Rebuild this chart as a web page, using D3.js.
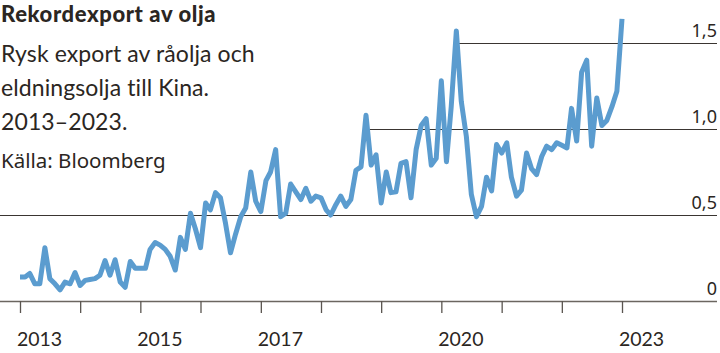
<!DOCTYPE html>
<html>
<head>
<meta charset="utf-8">
<script src="https://cdn.jsdelivr.net/npm/d3@7"></script>
<style>
  body { margin: 0; background: #fff; }
  text { fill: #2b2622; }
</style>
</head>
<body>
<script>
// monthly export, million barrels per day, Jan 2013 .. Jan 2023
var startYear = 2013;
var values = [
  0.14, 0.14, 0.16, 0.10, 0.10, 0.31, 0.13, 0.10, 0.065, 0.11, 0.10, 0.165, // 2013
  0.09, 0.12, 0.125, 0.13, 0.15, 0.235, 0.15, 0.24, 0.11, 0.08, 0.23, 0.19, // 2014
  0.19, 0.19, 0.30, 0.34, 0.325, 0.30, 0.26, 0.18, 0.37, 0.30, 0.51, 0.42,  // 2015
  0.31, 0.57, 0.53, 0.63, 0.60, 0.45, 0.28, 0.39, 0.49, 0.54, 0.75, 0.58,   // 2016
  0.52, 0.70, 0.75, 0.88, 0.49, 0.51, 0.68, 0.635, 0.59, 0.655, 0.58, 0.61, // 2017
  0.60, 0.53, 0.50, 0.56, 0.61, 0.55, 0.59, 0.76, 0.78, 1.08, 0.79, 0.85,   // 2018
  0.57, 0.75, 0.63, 0.635, 0.80, 0.81, 0.60, 0.88, 1.02, 1.06, 0.79, 0.83,  // 2019
  1.28, 0.81, 1.13, 1.57, 1.16, 0.955, 0.62, 0.49, 0.55, 0.72, 0.64, 0.91,  // 2020
  0.86, 0.92, 0.72, 0.61, 0.645, 0.86, 0.77, 0.735, 0.84, 0.90, 0.88, 0.92, // 2021
  0.905, 0.89, 1.12, 0.93, 1.33, 1.40, 0.90, 1.18, 1.02, 1.05, 1.13, 1.22,  // 2022
  1.64                                                                      // 2023
];
var tickYears = [2013, 2014, 2015, 2016, 2017, 2018, 2019, 2020, 2021, 2022, 2023];
var labelYears = [2013, 2015, 2017, 2020, 2023];
var yTicks = [0, 0.5, 1.0, 1.5];
var yLabels = ["0", "0,5", "1,0", "1,5"];
// gridlines are cut short where the headline sits
var gridStart = [0, 0, 364, 453];

var title = "Rekordexport av olja";
var subtitle = ["Rysk export av råolja och", "eldningsolja till Kina.", "2013–2023."];
var source = "Källa: Bloomberg";

var width = 720, height = 353;

var svg = d3.select("body").append("svg")
  .attr("width", width)
  .attr("height", height);

var data = values.map(function (v, i) {
  return { date: new Date(startYear, i, 1), value: v };
});

var x = d3.scaleTime()
  .domain([new Date(2013, 0, 1), new Date(2023, 0, 1)])
  .range([20, 622]);

var y = d3.scaleLinear()
  .domain([0, 1.5])
  .range([301, 43]);

// gridlines + right-hand labels
var grid = svg.selectAll(".grid")
  .data(yTicks)
  .enter()
  .append("g")
  .attr("class", "grid");

grid.append("line")
  .attr("x1", function (d, i) { return gridStart[i]; })
  .attr("x2", 717)
  .attr("y1", function (d) { return Math.round(y(d)) + 0.5; })
  .attr("y2", function (d) { return Math.round(y(d)) + 0.5; })
  .attr("stroke", function (d) { return d === 0 ? "#6b6660" : "#3a3531"; })
  .attr("stroke-width", function (d) { return d === 0 ? 1.6 : 1.2; });

grid.append("text")
  .attr("x", 717)
  .attr("y", function (d) { return y(d) - 6.5; })
  .attr("text-anchor", "end")
  .style("font-family", "'Noto Sans', sans-serif")
  .style("font-size", "18px")
  .text(function (d, i) { return yLabels[i]; });

// x axis: yearly ticks, only some labelled
var xAxis = d3.axisBottom(x)
  .tickValues(tickYears.map(function (yr) { return new Date(yr, 0, 1); }))
  .tickSize(12)
  .tickFormat(function (d) {
    return labelYears.indexOf(d.getFullYear()) >= 0 ? d.getFullYear() : "";
  });

var gx = svg.append("g")
  .attr("transform", "translate(0,301)")
  .call(xAxis);

gx.select(".domain").remove();
gx.selectAll(".tick line")
  .attr("stroke", "#5a5550")
  .attr("stroke-width", 1.3);
gx.selectAll(".tick text")
  .attr("y", 45)
  .attr("dy", 0)
  .attr("x", 19)
  .attr("fill", "#2b2622")
  .style("font-family", "Lato, sans-serif")
  .style("font-size", "19.5px");

// the series
var line = d3.line()
  .x(function (d) { return x(d.date); })
  .y(function (d) { return y(d.value); });

svg.append("path")
  .datum(data)
  .attr("d", line)
  .attr("fill", "none")
  .attr("stroke", "#5b9ccf")
  .attr("stroke-width", 5)
  .attr("stroke-linejoin", "round")
  .attr("stroke-linecap", "butt");

// headline block
svg.append("text")
  .attr("x", 1)
  .attr("y", 22)
  .style("font-family", "Lato, sans-serif")
  .style("font-weight", 900)
  .style("font-size", "22px")
  .style("letter-spacing", "0.6px")
  .text(title);

svg.selectAll(".sub")
  .data(subtitle)
  .enter()
  .append("text")
  .attr("class", "sub")
  .attr("x", 1)
  .attr("y", function (d, i) { return 62 + i * 33.8; })
  .style("font-family", "Lato, sans-serif")
  .style("font-size", "23px")
  .style("letter-spacing", "0.1px")
  .text(function (d) { return d; });

svg.append("text")
  .attr("x", 1)
  .attr("y", 168)
  .style("font-family", "'Noto Sans', sans-serif")
  .style("font-size", "20.5px")
  .text(source);
</script>
</body>
</html>
